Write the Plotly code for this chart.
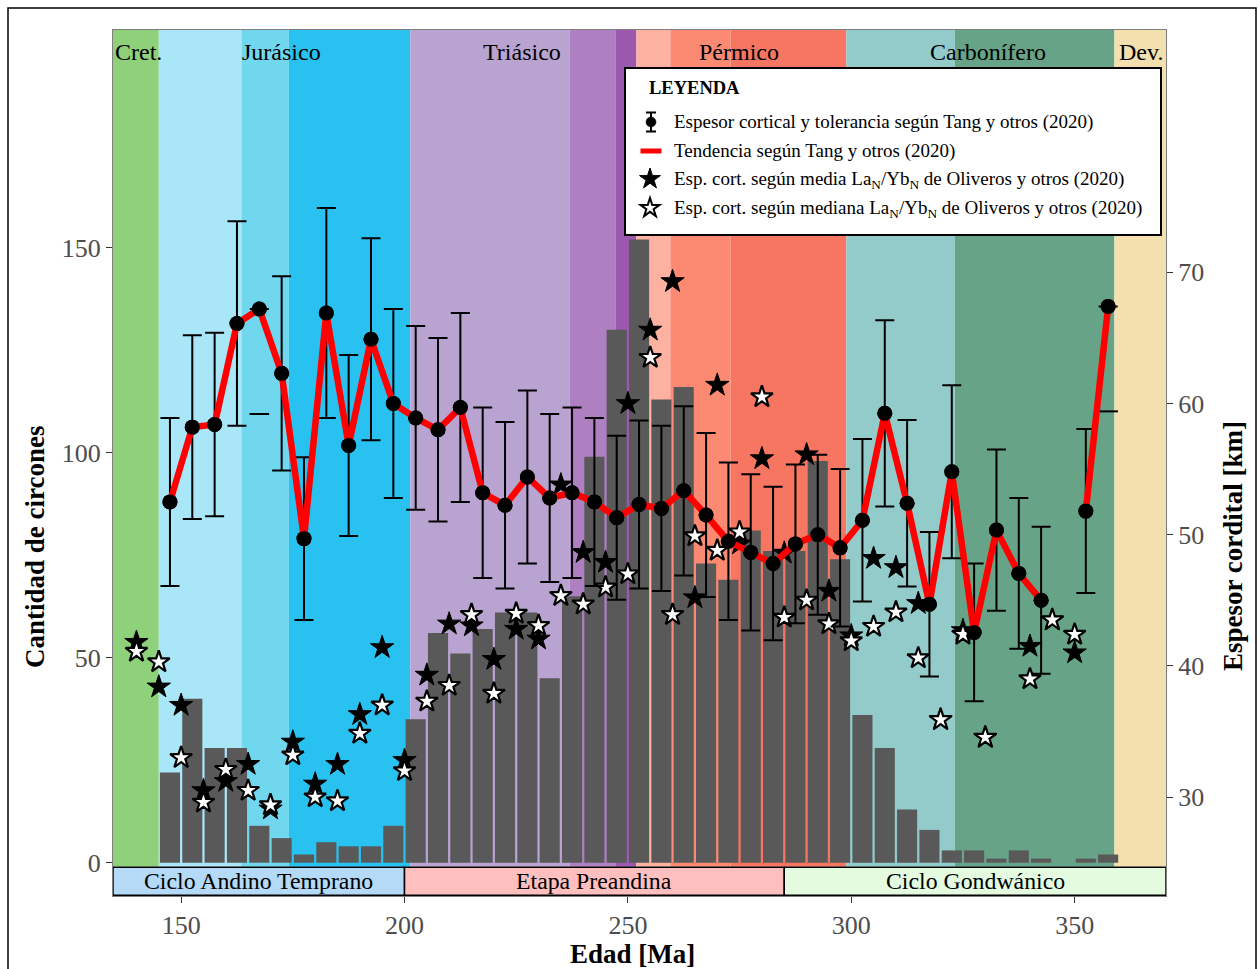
import math
import plotly.graph_objects as go

# ---------------- data ----------------
# zircon histogram (5 Ma bins, left edges)
bin_start = [145, 150, 155, 160, 165, 170, 175, 180, 185, 190, 195,
             200, 205, 210, 215, 220, 225, 230, 235, 240, 245, 250,
             255, 260, 265, 270, 275, 280, 285, 290, 295, 300, 305,
             310, 315, 320, 325, 330, 335, 340, 345, 350, 355]
zircon_count = [22, 40, 28, 28, 9, 6, 2, 5, 4, 4, 9,
                35, 56, 51, 57, 61, 61, 45, 65, 99, 130, 152,
                113, 116, 73, 69, 81, 76, 76, 98, 74, 36, 28,
                13, 8, 3, 3, 1, 3, 1, 0, 1, 2]
BIN_WIDTH = 5

# crustal thickness, Tang et al. (2020)
tang_age = [147.5, 152.5, 157.5, 162.5, 167.5, 172.5, 177.5, 182.5, 187.5, 192.5,
            197.5, 202.5, 207.5, 212.5, 217.5, 222.5, 227.5, 232.5, 237.5, 242.5,
            247.5, 252.5, 257.5, 262.5, 267.5, 272.5, 277.5, 282.5, 287.5, 292.5,
            297.5, 302.5, 307.5, 312.5, 317.5, 322.5, 327.5, 332.5, 337.5, 342.5,
            347.5, 352.5, 357.5]
tang_km = [52.5, 58.2, 58.4, 66.1, 67.2, 62.3, 49.7, 66.9, 56.8, 64.9,
           60.0, 58.9, 58.0, 59.7, 53.2, 52.25, 54.4, 52.8, 53.2, 52.5,
           51.3, 52.3, 52.0, 53.35, 51.5, 49.5, 48.65, 47.8, 49.3, 50.0,
           49.0, 51.1, 59.25, 52.4, 44.7, 54.8, 42.55, 50.35, 47.05, 45.0,
           None, 51.8, 67.4]
tang_err = [6.4, 7.0, 7.0, 7.8, 8.0, 7.4, 6.2, 8.0, 6.9, 7.7,
            7.2, 7.0, 7.0, 7.2, 6.5, 6.35, 6.6, 6.4, 6.5, 6.4,
            6.25, 6.4, 6.3, 6.45, 6.25, 6.0, 5.95, 5.85, 6.05, 6.1,
            6.0, 6.2, 7.1, 6.35, 5.5, 6.6, 5.25, 6.15, 5.75, 5.6,
            None, 6.25, 8.0]
# False -> upper bound missing, only the lower cap is drawn
tang_full_bar = [True, True, True, True, False, True, True, True, True, True,
                 True, True, True, True, True, True, True, True, True, True,
                 True, True, True, True, True, True, True, True, True, True,
                 True, True, True, True, True, True, True, True, True, True,
                 True, True, False]

# La_N/Yb_N crustal thickness, Oliveros et al. (2020)
star_age = [140, 145, 150, 155, 160, 165, 170, 175, 180, 185, 190, 195, 200,
            205, 210, 215, 220, 225, 230, 235, 240, 245, 250, 255, 260, 265,
            270, 275, 280, 285, 290, 295, 300, 305, 310, 315, 320, 325, 330,
            340, 345, 350]
star_mean_km = [41.8, 38.4, 37.0, 30.5, 31.2, 32.5, 29.1, 34.2, 31.0, 32.5, 36.3, 41.4, 32.8,
                39.3, 43.2, 43.06, 40.5, 42.8, 42.05, 53.8, 48.65, 47.9, 60.0, 65.6, 69.3, 45.2,
                61.4, 49.3, 55.8, 48.6, 56.1, 45.7, 42.3, 48.2, 47.5, 44.76, 35.9, 42.7, 34.55,
                41.5, 43.5, 41.0]
star_median_km = [41.1, 40.3, 33.0, 29.6, 32.1, 30.5, 29.4, 33.2, 30.0, 29.7, 34.85, 37.0, 32.0,
                  37.3, 38.5, 43.9, 37.9, 44.0, 43.06, 45.35, 44.7, 46.0, 47.0, 63.5, 43.9, 49.9,
                  48.8, 50.2, 60.5, 43.7, 45.0, 43.2, 41.9, 43.0, 44.1, 40.6, 35.9, 42.4, 34.55,
                  39.0, 43.5, 42.4]

# geological time scale (sub-divisions) and colours
epoch_start = [100.5, 145.0, 163.5, 174.1, 201.3, 237.0, 247.2, 251.9, 259.5, 273.0, 298.9, 323.2, 358.9]
epoch_end = [145.0, 163.5, 174.1, 201.3, 237.0, 247.2, 251.9, 259.5, 273.0, 298.9, 323.2, 358.9, 419.2]
epoch_color = ['#8FD07B', '#A8E6F8', '#71D7EE', '#29C1EF', '#B9A3D0', '#AE80C1', '#9A58AF',
               '#FDB2A1', '#FC8A72', '#F77662', '#93CBCB', '#67A487', '#F4DFAF']
period_name = ['Cret.', 'Jurásico', 'Triásico', 'Pérmico', 'Carbonífero', 'Dev.']
period_label_x = [140.4, 172.4, 226.3, 274.8, 330.6, 364.9]

# tectonic cycles
cycle_name = ['Ciclo Andino Temprano', 'Etapa Preandina', 'Ciclo Gondwánico']
cycle_start = [100.0, 200.0, 285.0]
cycle_end = [200.0, 285.0, 420.0]
cycle_color = ['#B4DAF8', '#FFBFBF', '#E4FBE0']

# legend texts
legend_title = 'LEYENDA'
legend_labels = ['Espesor cortical y tolerancia según Tang y otros (2020)',
                 'Tendencia según Tang y otros (2020)',
                 'Esp. cort. según media La<sub>N</sub>/Yb<sub>N</sub> de Oliveros y otros (2020)',
                 'Esp. cort. según mediana La<sub>N</sub>/Yb<sub>N</sub> de Oliveros y otros (2020)']

# ---------------- scales ----------------
W, H = 1259, 969
ML, MR, MT, MB = 113, 93, 30, 73
PW, PH = W - ML - MR, H - MT - MB
XMIN, XMAX = 134.75, 370.45
Y1MIN, Y1MAX = -8.12, 203.1
KM0, KM_FACTOR = 25.0, 3.2           # count = (km - 25) * 3.2


def count_to_km(c):
    return KM0 + c / KM_FACTOR


def px(xp):
    return (xp - ML) / PW


def py(yp):
    return (H - MB - yp) / PH


Y2MIN, Y2MAX = count_to_km(Y1MIN), count_to_km(Y1MAX)
BAND_BOTTOM = -1.0
CYCLE_TOP, CYCLE_BOTTOM = -1.1, -7.95
FONT = 'Liberation Serif'

fig = go.Figure()

# histogram bars
fig.add_trace(go.Bar(
    x=[s + BIN_WIDTH / 2 for s in bin_start], y=zircon_count, width=BIN_WIDTH * 0.9,
    marker=dict(color='#595959', line=dict(width=0)), showlegend=False,
    yaxis='y', hoverinfo='skip'))

# stars
fig.add_trace(go.Scatter(
    x=star_age, y=star_mean_km, yaxis='y2', mode='markers',
    marker=dict(symbol='star', size=17.5, color='black', line=dict(color='black', width=1)),
    showlegend=False))
fig.add_trace(go.Scatter(
    x=star_age, y=star_median_km, yaxis='y2', mode='markers',
    marker=dict(symbol='star', size=16.5, color='white', line=dict(color='black', width=2.2)),
    showlegend=False))

# Tang error bars
err_plus = [e if (f and e is not None) else None for e, f in zip(tang_err, tang_full_bar)]
fig.add_trace(go.Scatter(
    x=tang_age, y=tang_km, yaxis='y2', mode='markers',
    marker=dict(symbol='circle', size=15, color='black'),
    error_y=dict(type='data', array=err_plus, arrayminus=err_plus, visible=True,
                 color='black', thickness=2, width=9.5),
    showlegend=False))
# lonely lower caps
cap_age = [a for a, f in zip(tang_age, tang_full_bar) if not f]
cap_km = [k - e for k, e, f in zip(tang_km, tang_err, tang_full_bar) if not f]
fig.add_trace(go.Scatter(
    x=cap_age, y=cap_km, yaxis='y2', mode='markers',
    marker=dict(symbol='line-ew', size=14, line=dict(color='black', width=2)),
    showlegend=False, hoverinfo='skip'))

# trend line
fig.add_trace(go.Scatter(
    x=tang_age, y=tang_km, yaxis='y2', mode='lines', connectgaps=False,
    line=dict(color='#FF0000', width=6.5), showlegend=False))
# points on top
fig.add_trace(go.Scatter(
    x=tang_age, y=tang_km, yaxis='y2', mode='markers',
    marker=dict(symbol='circle', size=15, color='black'),
    showlegend=False, hoverinfo='skip'))

# ---------------- shapes & annotations ----------------
shapes = []
for s, e, c in zip(epoch_start, epoch_end, epoch_color):
    shapes.append(dict(type='rect', xref='x', yref='y', x0=max(s, XMIN), x1=min(e, XMAX),
                       y0=BAND_BOTTOM, y1=Y1MAX, fillcolor=c, line=dict(width=0), layer='below'))
for s, e, c in zip(cycle_start, cycle_end, cycle_color):
    shapes.append(dict(type='rect', xref='x', yref='y', x0=max(s, XMIN), x1=min(e, XMAX),
                       y0=CYCLE_BOTTOM, y1=CYCLE_TOP, fillcolor=c,
                       line=dict(color='black', width=1.5), layer='above'))
# outer frame
shapes.append(dict(type='rect', xref='paper', yref='paper', x0=px(8), x1=px(1256),
                   y0=py(H + 20), y1=py(8), line=dict(color='black', width=1.5),
                   fillcolor='rgba(0,0,0,0)', layer='above'))

# ---- custom legend (box, glyphs, texts) ----
LEG_L, LEG_R, LEG_T, LEG_B = 625, 1161, 68, 235
ROW_Y = [122, 151, 180, 209]
GLYPH_X = 651
TEXT_X = 672


def pline(x0, y0, x1, y1, color='black', width=2):
    return dict(type='line', xref='paper', yref='paper', x0=px(x0), y0=py(y0), x1=px(x1), y1=py(y1),
                line=dict(color=color, width=width), layer='above')


def star_path(cx, cy, R):
    r = R * 0.382
    pts = []
    for k in range(10):
        ang = math.radians(-90 + 36 * k)
        rad = R if k % 2 == 0 else r
        pts.append((px(cx + rad * math.cos(ang)), py(cy + rad * math.sin(ang))))
    return 'M ' + ' L '.join(f'{a:.5f},{b:.5f}' for a, b in pts) + ' Z'


shapes.append(dict(type='rect', xref='paper', yref='paper', x0=px(LEG_L), x1=px(LEG_R),
                   y0=py(LEG_B), y1=py(LEG_T), fillcolor='white',
                   line=dict(color='black', width=2), layer='above'))
# row 1: point with error bar
shapes.append(pline(GLYPH_X, ROW_Y[0] - 9.5, GLYPH_X, ROW_Y[0] + 9.5))
shapes.append(pline(GLYPH_X - 5, ROW_Y[0] - 9.5, GLYPH_X + 5, ROW_Y[0] - 9.5))
shapes.append(pline(GLYPH_X - 5, ROW_Y[0] + 9.5, GLYPH_X + 5, ROW_Y[0] + 9.5))
shapes.append(dict(type='circle', xref='paper', yref='paper', x0=px(GLYPH_X - 5), x1=px(GLYPH_X + 5),
                   y0=py(ROW_Y[0] + 5), y1=py(ROW_Y[0] - 5), fillcolor='black',
                   line=dict(color='black', width=0.5), layer='above'))
# row 2: red line
shapes.append(pline(GLYPH_X - 10.5, ROW_Y[1], GLYPH_X + 10.5, ROW_Y[1], color='#FF0000', width=5))
# row 3/4: stars
shapes.append(dict(type='path', xref='paper', yref='paper', path=star_path(GLYPH_X - 1, ROW_Y[2] - 1, 11),
                   fillcolor='black', line=dict(color='black', width=1), layer='above'))
shapes.append(dict(type='path', xref='paper', yref='paper', path=star_path(GLYPH_X - 1, ROW_Y[3] - 1, 10),
                   fillcolor='white', line=dict(color='black', width=2), layer='above'))

annotations = []
annotations.append(dict(x=px(647), y=py(88), xref='paper', yref='paper', text=f'<b>{legend_title}</b>',
                        showarrow=False, font=dict(size=18.5, color='black', family=FONT),
                        xanchor='left', yanchor='middle'))
for lab, ry in zip(legend_labels, ROW_Y):
    annotations.append(dict(x=px(TEXT_X), y=py(ry), xref='paper', yref='paper', text=lab,
                            showarrow=False, font=dict(size=19, color='black', family=FONT),
                            xanchor='left', yanchor='middle'))

for n, lx in zip(period_name, period_label_x):
    annotations.append(dict(x=lx, y=197.7, xref='x', yref='y',
                            text=n, showarrow=False, font=dict(size=24, color='black', family=FONT),
                            xanchor='center', yanchor='middle'))
for n, s, e in zip(cycle_name, cycle_start, cycle_end):
    annotations.append(dict(x=(max(s, XMIN) + min(e, XMAX)) / 2, y=(CYCLE_TOP + CYCLE_BOTTOM) / 2,
                            xref='x', yref='y', text=n, showarrow=False,
                            font=dict(size=23.8, color='black', family=FONT),
                            xanchor='center', yanchor='middle'))
annotations.append(dict(x=px(35), y=py(547), xref='paper', yref='paper', text='<b>Cantidad de circones</b>',
                        textangle=-90, showarrow=False, font=dict(size=27, color='black', family=FONT),
                        xanchor='center', yanchor='middle'))
annotations.append(dict(x=px(1233), y=py(546), xref='paper', yref='paper', text='<b>Espesor cordital [km]</b>',
                        textangle=-90, showarrow=False, font=dict(size=27, color='black', family=FONT),
                        xanchor='center', yanchor='middle'))
annotations.append(dict(x=px(632), y=py(954), xref='paper', yref='paper', text='<b>Edad [Ma]</b>',
                        showarrow=False, font=dict(size=27, color='black', family=FONT),
                        xanchor='center', yanchor='middle'))

tick_common = dict(ticks='outside', ticklen=6, tickwidth=1.2, tickcolor='#333333',
                   tickfont=dict(size=26, color='#4D4D4D', family=FONT),
                   showgrid=False, zeroline=False)

fig.update_layout(
    width=W, height=H,
    margin=dict(l=ML, r=MR, t=MT, b=MB, pad=0),
    paper_bgcolor='white', plot_bgcolor='white',
    font=dict(family=FONT, color='black'),
    barmode='overlay',
    xaxis=dict(range=[XMIN, XMAX], tickvals=[150, 200, 250, 300, 350],
               showline=True, mirror=True, linecolor='#7F7F7F', linewidth=1.2, **tick_common),
    yaxis=dict(range=[Y1MIN, Y1MAX], tickvals=[0, 50, 100, 150],
               showline=True, mirror=True, linecolor='#7F7F7F', linewidth=1.2, **tick_common),
    yaxis2=dict(range=[Y2MIN, Y2MAX], tickvals=[30, 40, 50, 60, 70], overlaying='y', side='right',
                showline=False, **tick_common),
    shapes=shapes, annotations=annotations,
    showlegend=False,
)

fig.write_html('out.html')
